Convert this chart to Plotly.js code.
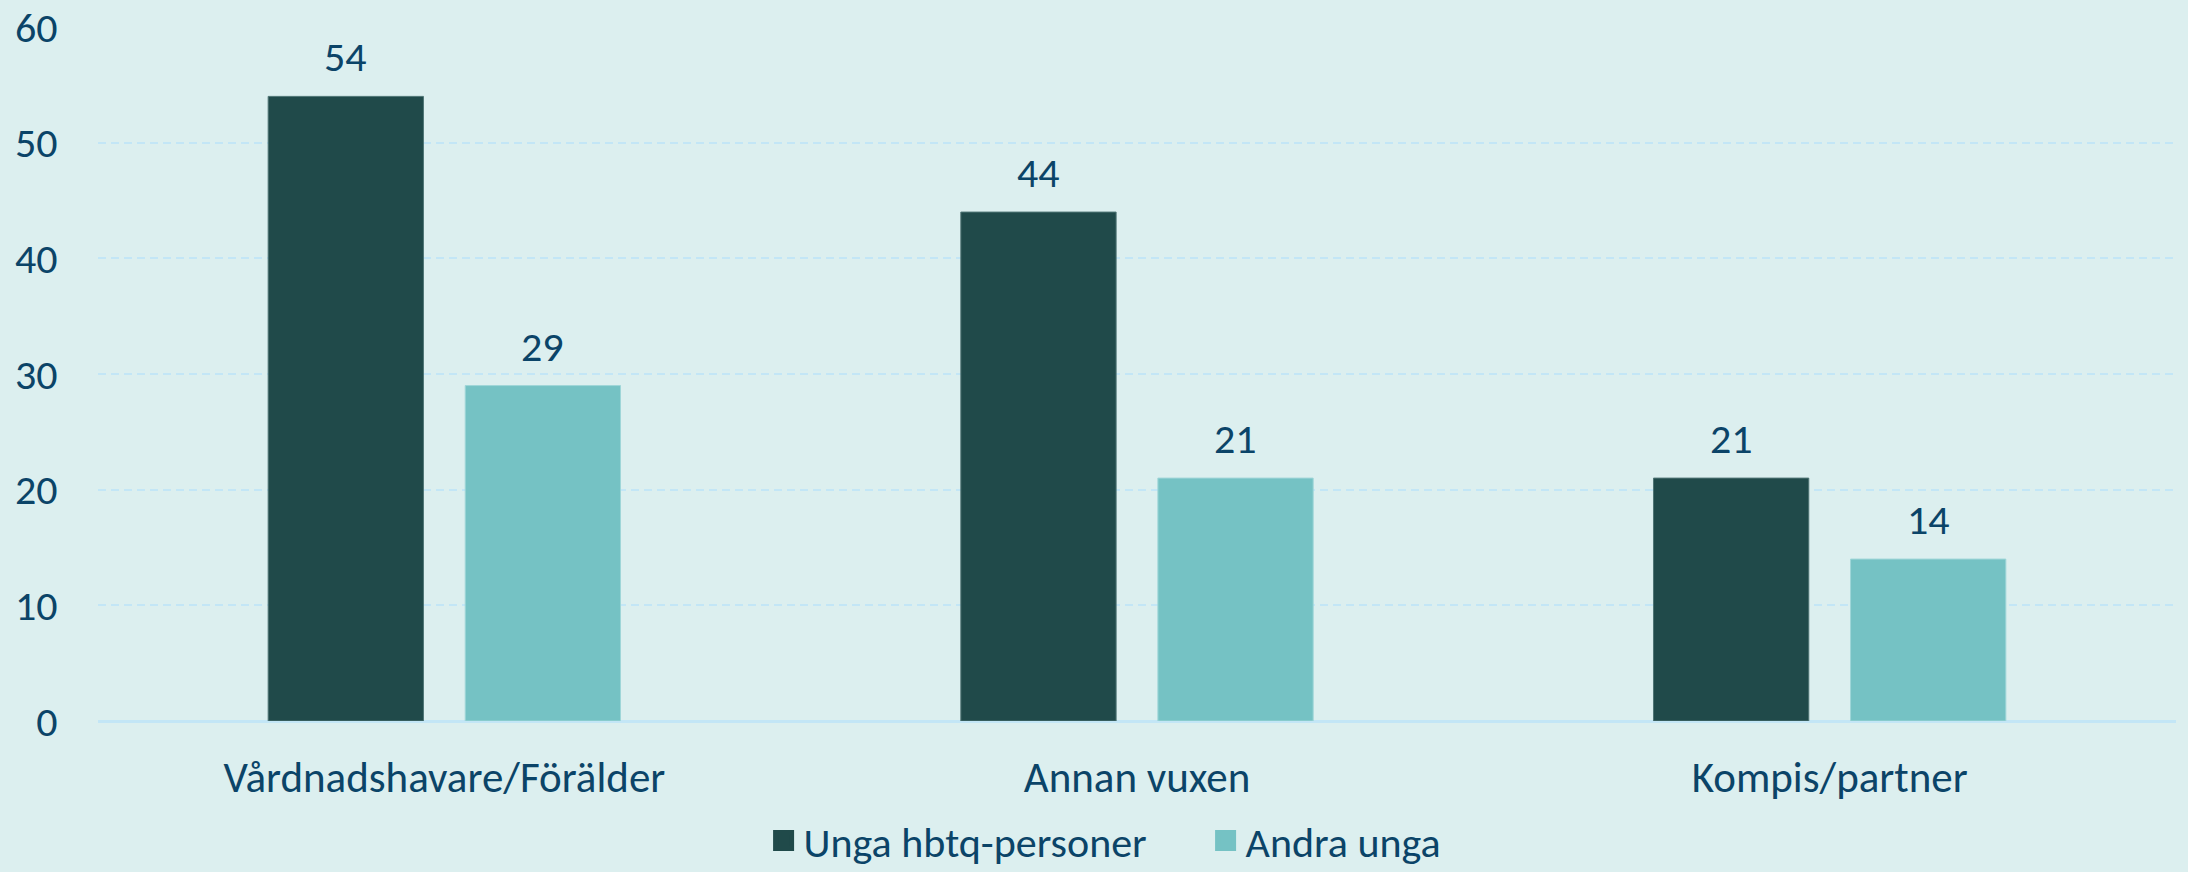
<!DOCTYPE html>
<html>
<head>
<meta charset="utf-8">
<script src="https://cdn.plot.ly/plotly-3.0.1.min.js"></script>
<style>
  html, body { margin: 0; padding: 0; background: #dcefef; }
  #chart { width: 2188px; height: 872px; }
</style>
</head>
<body>
<div id="chart"></div>
<script>
const categories = ["Vårdnadshavare/Förälder", "Annan vuxen", "Kompis/partner"];
const seriesNames = ["Unga hbtq-personer", "Andra unga"];
const hbtqValues = [54, 44, 21];
const andraValues = [29, 21, 14];
const yTicks = [0, 10, 20, 30, 40, 50, 60];

const textColor = "#0b4468";
const fontFamily = "Carlito, Lato, 'Open Sans', sans-serif";
const colors = ["#204a4a", "#75c2c4"];
const lineColors = ["#4f7575", "#9fd6d8"];

const seriesValues = [hbtqValues, andraValues];

const traces = seriesValues.map((vals, si) => ({
  type: "bar", name: seriesNames[si], x: categories, y: vals, showlegend: false,
  marker: { color: colors[si], line: { color: lineColors[si], width: 1 } }, hoverinfo: "x+y"
}));
// legend entries (bigger square swatches)
seriesNames.forEach((name, si) => {
  traces.push({
    type: "scatter", mode: "markers", name: name, x: [null], y: [null],
    marker: { symbol: "square", size: 16, color: colors[si], line: { color: colors[si], width: 5 } },
    showlegend: true, hoverinfo: "skip"
  });
});

// value labels above bars (positions from data arrays)
const plotWidth = 2188 - 98 - 12;
const catWidth = plotWidth / categories.length;
const bargap = 0.431;
const slot = catWidth * (1 - bargap) / 2;
const annotations = [];
seriesValues.forEach((vals, si) => {
  vals.forEach((v, i) => {
    annotations.push({
      x: categories[i], y: v, xref: "x", yref: "y",
      text: String(v), showarrow: false,
      xshift: (si === 0 ? -1 : 1) * slot / 2,
      yanchor: "bottom", yshift: 12,
      font: { family: fontFamily, size: 42, color: textColor }
    });
  });
});

const layout = {
  width: 2188, height: 872,
  paper_bgcolor: "#dcefef", plot_bgcolor: "#dcefef",
  margin: { l: 98, r: 12, t: 27, b: 151 },
  barmode: "group", bargap: bargap, bargroupgap: 0.212,
  font: { family: fontFamily, color: textColor, size: 42 },
  xaxis: {
    type: "category", showgrid: false, zeroline: false, showline: false,
    ticks: "outside", ticklen: 18, tickcolor: "rgba(0,0,0,0)",
    tickfont: { family: fontFamily, size: 43, color: textColor }
  },
  yaxis: {
    range: [0, 60], tickvals: yTicks, ticktext: yTicks.map(String),
    showgrid: true, gridcolor: "#c3e6f6", gridwidth: 2, griddash: "8px,5px",
    zeroline: true, zerolinecolor: "#c3e6f6", zerolinewidth: 3,
    showline: false, ticks: "outside", ticklen: 31, tickcolor: "rgba(0,0,0,0)",
    tickfont: { family: fontFamily, size: 42, color: textColor }
  },
  showlegend: true,
  legend: {
    orientation: "h", x: 0.551, xref: "container", xanchor: "center",
    y: 0.036, yref: "container", yanchor: "middle",
    font: { family: fontFamily, size: 42, color: textColor },
    bgcolor: "rgba(0,0,0,0)", itemwidth: 30, traceorder: "normal",
    entrywidth: 397, entrywidthmode: "pixels"
  },
  annotations: annotations
};

Plotly.newPlot("chart", traces, layout, { displayModeBar: false, staticPlot: true });
</script>
</body>
</html>
